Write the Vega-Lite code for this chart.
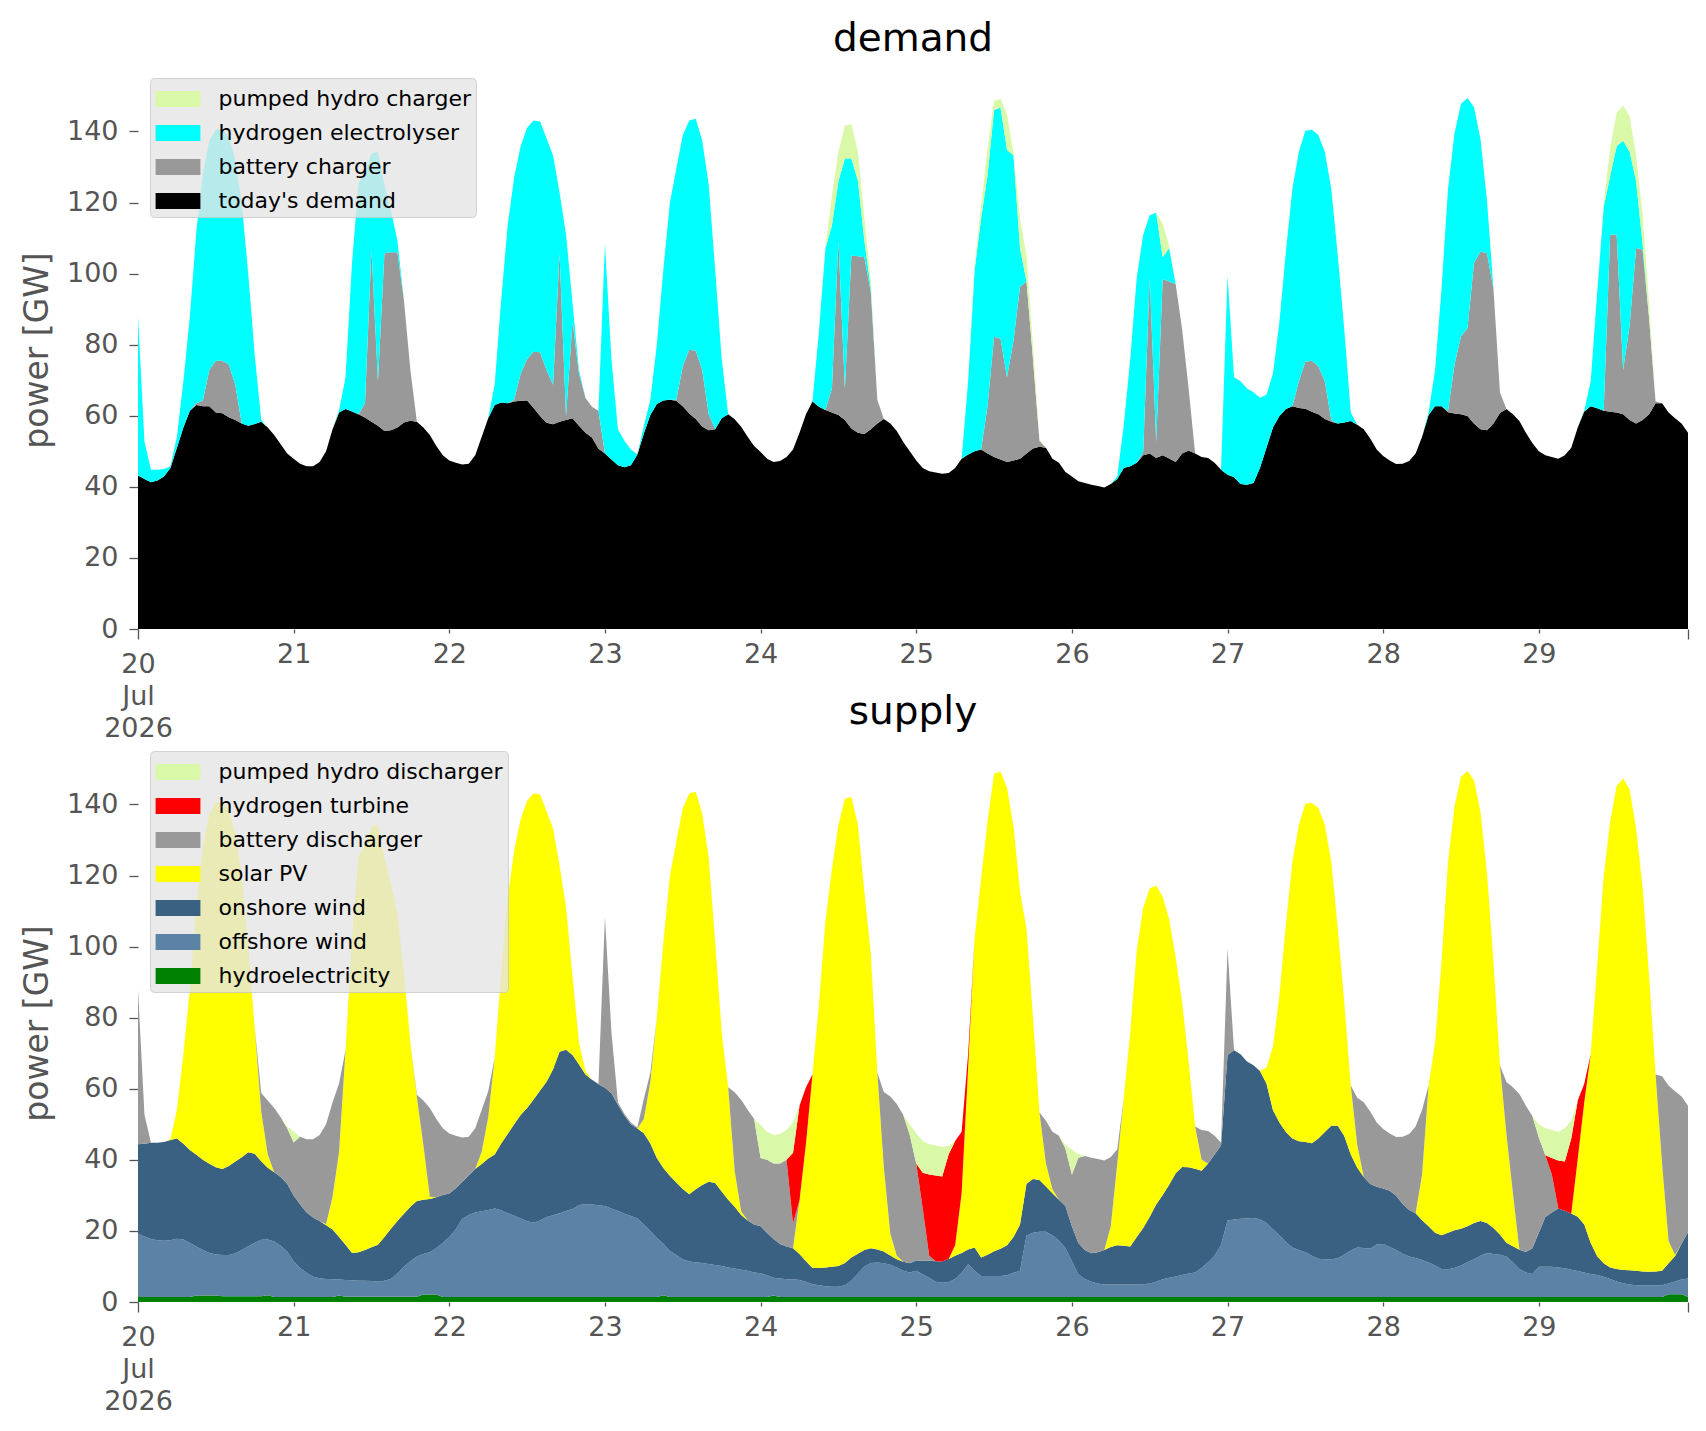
{
"$schema": "https://vega.github.io/schema/vega-lite/v6.json",
"background": "white",
"padding": {"left": 21, "top": 20, "right": 12, "bottom": 10},
"config": {
 "font": "DejaVu Sans",
 "view": {"stroke": null},
 "title": {"font": "DejaVu Sans", "fontSize": 39, "fontWeight": "normal", "color": "#000000", "anchor": "middle", "baseline": "alphabetic", "offset": 12},
 "axis": {"domain": false, "grid": false, "labelFont": "DejaVu Sans", "labelFontSize": 27, "labelColor": "#555555", "tickColor": "#555555", "tickWidth": 1.3, "titleFont": "DejaVu Sans", "titleFontSize": 33, "titleFontWeight": "normal", "titleColor": "#555555"},
 "legend": {"labelFont": "DejaVu Sans", "labelFontSize": 22, "labelColor": "#000000", "labelLimit": 600}
},
"datasets": {"hourly": [
{"t":"2026-07-20T00:00","dd":43.2,"bc":0,"he":44.8,"pc":0,"hy":1.4,"of":17.8,"on":25.2,"pv":0,"bd":43.6,"ht":0,"pd":0},
{"t":"2026-07-20T01:00","dd":42.2,"bc":0,"he":10.4,"pc":0,"hy":1.4,"of":17,"on":26.1,"pv":0,"bd":8.1,"ht":0,"pd":0},
{"t":"2026-07-20T02:00","dd":41.3,"bc":0,"he":3.5,"pc":0,"hy":1.4,"of":16.3,"on":27.1,"pv":0,"bd":0,"ht":0,"pd":0},
{"t":"2026-07-20T03:00","dd":41.8,"bc":0,"he":3,"pc":0,"hy":1.4,"of":16,"on":27.4,"pv":0,"bd":0,"ht":0,"pd":0},
{"t":"2026-07-20T04:00","dd":42.9,"bc":0,"he":2.1,"pc":0,"hy":1.4,"of":15.8,"on":27.8,"pv":0,"bd":0,"ht":0,"pd":0},
{"t":"2026-07-20T05:00","dd":45.3,"bc":0,"he":0.5,"pc":0,"hy":1.4,"of":16,"on":28.2,"pv":0.2,"bd":0,"ht":0,"pd":0},
{"t":"2026-07-20T06:00","dd":51,"bc":0,"he":3.1,"pc":0,"hy":1.4,"of":16.4,"on":28.2,"pv":8.1,"bd":0,"ht":0,"pd":0},
{"t":"2026-07-20T07:00","dd":56.7,"bc":0,"he":13,"pc":0,"hy":1.4,"of":16.2,"on":26.9,"pv":25.2,"bd":0,"ht":0,"pd":0},
{"t":"2026-07-20T08:00","dd":61.4,"bc":0,"he":26.6,"pc":0,"hy":1.4,"of":15.2,"on":26.2,"pv":45.2,"bd":0,"ht":0,"pd":0},
{"t":"2026-07-20T09:00","dd":63,"bc":0.5,"he":48.5,"pc":0,"hy":1.8,"of":13.8,"on":25.8,"pv":70.6,"bd":0,"ht":0,"pd":0},
{"t":"2026-07-20T10:00","dd":62.7,"bc":1.6,"he":63.7,"pc":0,"hy":1.8,"of":12.8,"on":25.4,"pv":88,"bd":0,"ht":0,"pd":0},
{"t":"2026-07-20T11:00","dd":62.7,"bc":10.2,"he":64.5,"pc":0,"hy":1.8,"of":12,"on":25.1,"pv":98.5,"bd":0,"ht":0,"pd":0},
{"t":"2026-07-20T12:00","dd":60.9,"bc":14.6,"he":65,"pc":0,"hy":1.8,"of":11.6,"on":24.5,"pv":102.6,"bd":0,"ht":0,"pd":0},
{"t":"2026-07-20T13:00","dd":60.7,"bc":14.8,"he":65.2,"pc":0,"hy":1.6,"of":11.6,"on":24.2,"pv":103.3,"bd":0,"ht":0,"pd":0},
{"t":"2026-07-20T14:00","dd":59.6,"bc":14.8,"he":64,"pc":0,"hy":1.6,"of":11.6,"on":25.1,"pv":100.1,"bd":0,"ht":0,"pd":0},
{"t":"2026-07-20T15:00","dd":58.8,"bc":9.9,"he":63.3,"pc":0,"hy":1.6,"of":12.1,"on":25.8,"pv":92.5,"bd":0,"ht":0,"pd":0},
{"t":"2026-07-20T16:00","dd":57.8,"bc":0,"he":61.9,"pc":0,"hy":1.6,"of":13,"on":26.1,"pv":79,"bd":0,"ht":0,"pd":0},
{"t":"2026-07-20T17:00","dd":57.2,"bc":0,"he":42.7,"pc":0,"hy":1.6,"of":14.1,"on":26.4,"pv":57.8,"bd":0,"ht":0,"pd":0},
{"t":"2026-07-20T18:00","dd":57.7,"bc":0,"he":19.3,"pc":0,"hy":1.6,"of":15.1,"on":25,"pv":35.3,"bd":0,"ht":0,"pd":0},
{"t":"2026-07-20T19:00","dd":58.3,"bc":0,"he":0.5,"pc":0,"hy":1.6,"of":15.9,"on":22.1,"pv":13.9,"bd":5.3,"ht":0,"pd":0},
{"t":"2026-07-20T20:00","dd":56.7,"bc":0,"he":0,"pc":0,"hy":1.9,"of":15.7,"on":20.2,"pv":3.8,"bd":15.1,"ht":0,"pd":0},
{"t":"2026-07-20T21:00","dd":54.6,"bc":0,"he":0,"pc":0,"hy":1.4,"of":15.6,"on":19.5,"pv":0,"bd":18.1,"ht":0,"pd":0},
{"t":"2026-07-20T22:00","dd":52,"bc":0,"he":0,"pc":0,"hy":1.4,"of":14.4,"on":19.4,"pv":0,"bd":16.8,"ht":0,"pd":0},
{"t":"2026-07-20T23:00","dd":49.4,"bc":0,"he":0,"pc":0,"hy":1.4,"of":12.8,"on":19.1,"pv":0,"bd":15.6,"ht":0,"pd":0.5},
{"t":"2026-07-21T00:00","dd":47.9,"bc":0,"he":0,"pc":0,"hy":1.4,"of":10.1,"on":18.5,"pv":0,"bd":14.9,"ht":0,"pd":3},
{"t":"2026-07-21T01:00","dd":46.5,"bc":0,"he":0,"pc":0,"hy":1.4,"of":8.2,"on":17.8,"pv":0,"bd":19.1,"ht":0,"pd":0},
{"t":"2026-07-21T02:00","dd":45.8,"bc":0,"he":0,"pc":0,"hy":1.4,"of":6.8,"on":17,"pv":0,"bd":20.6,"ht":0,"pd":0},
{"t":"2026-07-21T03:00","dd":45.8,"bc":0,"he":0,"pc":0,"hy":1.4,"of":5.7,"on":16.7,"pv":0,"bd":22,"ht":0,"pd":0},
{"t":"2026-07-21T04:00","dd":47,"bc":0,"he":0,"pc":0,"hy":1.4,"of":5.3,"on":16.1,"pv":0,"bd":24.2,"ht":0,"pd":0},
{"t":"2026-07-21T05:00","dd":50,"bc":0,"he":0,"pc":0,"hy":1.4,"of":5.1,"on":15.1,"pv":0.3,"bd":28.1,"ht":0,"pd":0},
{"t":"2026-07-21T06:00","dd":56.2,"bc":0,"he":0,"pc":0,"hy":1.4,"of":5,"on":14,"pv":9.2,"bd":26.6,"ht":0,"pd":0},
{"t":"2026-07-21T07:00","dd":60.9,"bc":0,"he":0.6,"pc":0,"hy":1.8,"of":4.5,"on":12,"pv":23.8,"bd":19.4,"ht":0,"pd":0},
{"t":"2026-07-21T08:00","dd":61.9,"bc":0,"he":8.9,"pc":0,"hy":1.5,"of":4.7,"on":9.9,"pv":54.7,"bd":0,"ht":0,"pd":0},
{"t":"2026-07-21T09:00","dd":61.2,"bc":0,"he":41.8,"pc":0,"hy":1.5,"of":4.6,"on":7.7,"pv":89.2,"bd":0,"ht":0,"pd":0},
{"t":"2026-07-21T10:00","dd":60.4,"bc":0,"he":65,"pc":0,"hy":1.5,"of":4.5,"on":8,"pv":111.4,"bd":0,"ht":0,"pd":0},
{"t":"2026-07-21T11:00","dd":59.5,"bc":4,"he":65,"pc":0,"hy":1.5,"of":4.5,"on":8.6,"pv":113.9,"bd":0,"ht":0,"pd":0},
{"t":"2026-07-21T12:00","dd":58.3,"bc":48.4,"he":27.1,"pc":0,"hy":1.5,"of":4.4,"on":9.5,"pv":118.4,"bd":0,"ht":0,"pd":0},
{"t":"2026-07-21T13:00","dd":57.2,"bc":12.5,"he":64.6,"pc":0,"hy":1.5,"of":4.2,"on":10.4,"pv":118.2,"bd":0,"ht":0,"pd":0},
{"t":"2026-07-21T14:00","dd":55.7,"bc":50,"he":19.3,"pc":0,"hy":1.5,"of":4.5,"on":12.3,"pv":106.7,"bd":0,"ht":0,"pd":0},
{"t":"2026-07-21T15:00","dd":55.9,"bc":50.1,"he":11.6,"pc":0,"hy":1.5,"of":5,"on":14.1,"pv":97,"bd":0,"ht":0,"pd":0},
{"t":"2026-07-21T16:00","dd":56.7,"bc":49.3,"he":3.3,"pc":0,"hy":1.5,"of":6.5,"on":14.8,"pv":86.5,"bd":0,"ht":0,"pd":0},
{"t":"2026-07-21T17:00","dd":58.1,"bc":34.5,"he":0,"pc":0,"hy":1.5,"of":8.4,"on":14.9,"pv":67.8,"bd":0,"ht":0,"pd":0},
{"t":"2026-07-21T18:00","dd":58.6,"bc":14.3,"he":0,"pc":0,"hy":1.5,"of":10,"on":15.3,"pv":46.1,"bd":0,"ht":0,"pd":0},
{"t":"2026-07-21T19:00","dd":58.3,"bc":0,"he":0,"pc":0,"hy":1.5,"of":11.3,"on":15.6,"pv":29.3,"bd":0.6,"ht":0,"pd":0},
{"t":"2026-07-21T20:00","dd":56.7,"bc":0,"he":0,"pc":0,"hy":2.1,"of":11.4,"on":15.3,"pv":15.4,"bd":12.5,"ht":0,"pd":0},
{"t":"2026-07-21T21:00","dd":54.6,"bc":0,"he":0,"pc":0,"hy":2.1,"of":11.9,"on":15,"pv":0.6,"bd":25,"ht":0,"pd":0},
{"t":"2026-07-21T22:00","dd":51.5,"bc":0,"he":0,"pc":0,"hy":2.1,"of":13.1,"on":14.3,"pv":0,"bd":22,"ht":0,"pd":0},
{"t":"2026-07-21T23:00","dd":48.9,"bc":0,"he":0,"pc":0,"hy":1.4,"of":15.2,"on":13.5,"pv":0,"bd":18.8,"ht":0,"pd":0},
{"t":"2026-07-22T00:00","dd":47.4,"bc":0,"he":0,"pc":0,"hy":1.4,"of":16.9,"on":12.2,"pv":0,"bd":16.9,"ht":0,"pd":0},
{"t":"2026-07-22T01:00","dd":46.8,"bc":0,"he":0,"pc":0,"hy":1.4,"of":19.1,"on":11.5,"pv":0,"bd":14.8,"ht":0,"pd":0},
{"t":"2026-07-22T02:00","dd":46.3,"bc":0,"he":0,"pc":0,"hy":1.4,"of":22,"on":10.4,"pv":0,"bd":12.5,"ht":0,"pd":0},
{"t":"2026-07-22T03:00","dd":46.5,"bc":0,"he":0,"pc":0,"hy":1.4,"of":23.1,"on":11.1,"pv":0,"bd":10.9,"ht":0,"pd":0},
{"t":"2026-07-22T04:00","dd":48.9,"bc":0,"he":0,"pc":0,"hy":1.4,"of":23.8,"on":12.2,"pv":0,"bd":11.5,"ht":0,"pd":0},
{"t":"2026-07-22T05:00","dd":54.1,"bc":0,"he":0,"pc":0,"hy":1.4,"of":24.1,"on":13.3,"pv":3.5,"bd":11.8,"ht":0,"pd":0},
{"t":"2026-07-22T06:00","dd":59.3,"bc":0,"he":0,"pc":0,"hy":1.4,"of":24.5,"on":14.5,"pv":11.6,"bd":7.3,"ht":0,"pd":0},
{"t":"2026-07-22T07:00","dd":63,"bc":0,"he":5.7,"pc":0,"hy":1.4,"of":24.9,"on":15.2,"pv":27.2,"bd":0,"ht":0,"pd":0},
{"t":"2026-07-22T08:00","dd":63.7,"bc":0,"he":28.9,"pc":0,"hy":1.4,"of":24.4,"on":18.8,"pv":48,"bd":0,"ht":0,"pd":0},
{"t":"2026-07-22T09:00","dd":63.5,"bc":0,"he":50,"pc":0,"hy":1.4,"of":23.6,"on":22.3,"pv":66.2,"bd":0,"ht":0,"pd":0},
{"t":"2026-07-22T10:00","dd":64,"bc":0.5,"he":62.5,"pc":0,"hy":1.4,"of":22.9,"on":25.7,"pv":77,"bd":0,"ht":0,"pd":0},
{"t":"2026-07-22T11:00","dd":64.2,"bc":7.6,"he":64,"pc":0,"hy":1.4,"of":22.1,"on":29.1,"pv":83.2,"bd":0,"ht":0,"pd":0},
{"t":"2026-07-22T12:00","dd":64.3,"bc":11.7,"he":65,"pc":0,"hy":1.4,"of":21.3,"on":31.9,"pv":86.4,"bd":0,"ht":0,"pd":0},
{"t":"2026-07-22T13:00","dd":62.2,"bc":15.8,"he":65.1,"pc":0,"hy":1.4,"of":20.9,"on":34.7,"pv":86.1,"bd":0,"ht":0,"pd":0},
{"t":"2026-07-22T14:00","dd":59.9,"bc":18,"he":64.9,"pc":0,"hy":1.4,"of":21.5,"on":36.6,"pv":83.3,"bd":0,"ht":0,"pd":0},
{"t":"2026-07-22T15:00","dd":58,"bc":14.9,"he":65.1,"pc":0,"hy":1.4,"of":22.5,"on":38.1,"pv":76,"bd":0,"ht":0,"pd":0},
{"t":"2026-07-22T16:00","dd":57.6,"bc":11.1,"he":64.5,"pc":0,"hy":1.4,"of":23,"on":41.1,"pv":67.7,"bd":0,"ht":0,"pd":0},
{"t":"2026-07-22T17:00","dd":58.3,"bc":47.4,"he":17.1,"pc":0,"hy":1.4,"of":23.6,"on":45.4,"pv":52.4,"bd":0,"ht":0,"pd":0},
{"t":"2026-07-22T18:00","dd":58.8,"bc":1.1,"he":51.1,"pc":0,"hy":1.4,"of":24.2,"on":45.4,"pv":40,"bd":0,"ht":0,"pd":0},
{"t":"2026-07-22T19:00","dd":59.3,"bc":27.1,"he":5.2,"pc":0,"hy":1.4,"of":24.8,"on":43.3,"pv":22.1,"bd":0,"ht":0,"pd":0},
{"t":"2026-07-22T20:00","dd":57.2,"bc":14.6,"he":1.1,"pc":0,"hy":1.4,"of":25.9,"on":39.5,"pv":6.1,"bd":0,"ht":0,"pd":0},
{"t":"2026-07-22T21:00","dd":55.2,"bc":9.8,"he":0,"pc":0,"hy":1.4,"of":26.1,"on":36.5,"pv":1,"bd":0,"ht":0,"pd":0},
{"t":"2026-07-22T22:00","dd":53.9,"bc":8.6,"he":0,"pc":0,"hy":1.4,"of":26,"on":35.1,"pv":0,"bd":0,"ht":0,"pd":0},
{"t":"2026-07-22T23:00","dd":50.7,"bc":10.7,"he":0,"pc":0,"hy":1.4,"of":25.8,"on":34.1,"pv":0,"bd":0.1,"ht":0,"pd":0},
{"t":"2026-07-23T00:00","dd":49.4,"bc":0,"he":58.9,"pc":0,"hy":1.4,"of":25.6,"on":33.3,"pv":0,"bd":48,"ht":0,"pd":0},
{"t":"2026-07-23T01:00","dd":47.7,"bc":0,"he":28.3,"pc":0,"hy":1.4,"of":24.9,"on":32.4,"pv":0,"bd":17.3,"ht":0,"pd":0},
{"t":"2026-07-23T02:00","dd":46.1,"bc":0,"he":10.1,"pc":0,"hy":1.4,"of":24.2,"on":29.9,"pv":0,"bd":0.7,"ht":0,"pd":0},
{"t":"2026-07-23T03:00","dd":45.5,"bc":0,"he":7.5,"pc":0,"hy":1.4,"of":23.4,"on":27.7,"pv":0,"bd":0.5,"ht":0,"pd":0},
{"t":"2026-07-23T04:00","dd":46.1,"bc":0,"he":4.4,"pc":0,"hy":1.4,"of":22.8,"on":25.8,"pv":0,"bd":0.5,"ht":0,"pd":0},
{"t":"2026-07-23T05:00","dd":49.1,"bc":0,"he":0,"pc":0,"hy":1.4,"of":22.1,"on":25.3,"pv":0,"bd":0.3,"ht":0,"pd":0},
{"t":"2026-07-23T06:00","dd":55,"bc":0,"he":2.2,"pc":0,"hy":1.4,"of":20.4,"on":25.7,"pv":4,"bd":5.7,"ht":0,"pd":0},
{"t":"2026-07-23T07:00","dd":60.2,"bc":0,"he":4.3,"pc":0,"hy":1.4,"of":18.6,"on":24.6,"pv":17.3,"bd":2.6,"ht":0,"pd":0},
{"t":"2026-07-23T08:00","dd":63.3,"bc":0,"he":16.7,"pc":0,"hy":1.4,"of":16.6,"on":22.5,"pv":39.5,"bd":0,"ht":0,"pd":0},
{"t":"2026-07-23T09:00","dd":64.3,"bc":0,"he":36.7,"pc":0,"hy":1.9,"of":14.5,"on":21.3,"pv":63.3,"bd":0,"ht":0,"pd":0},
{"t":"2026-07-23T10:00","dd":64.5,"bc":0,"he":55.2,"pc":0,"hy":1.4,"of":13,"on":21.1,"pv":84.2,"bd":0,"ht":0,"pd":0},
{"t":"2026-07-23T11:00","dd":64.2,"bc":0.3,"he":65,"pc":0,"hy":1.4,"of":11.8,"on":20.4,"pv":95.9,"bd":0,"ht":0,"pd":0},
{"t":"2026-07-23T12:00","dd":62.7,"bc":11.2,"he":65,"pc":0,"hy":1.4,"of":10.6,"on":19.8,"pv":107.1,"bd":0,"ht":0,"pd":0},
{"t":"2026-07-23T13:00","dd":60.6,"bc":18,"he":64.5,"pc":0,"hy":1.4,"of":10,"on":18.9,"pv":112.8,"bd":0,"ht":0,"pd":0},
{"t":"2026-07-23T14:00","dd":59.1,"bc":19.2,"he":65.3,"pc":0,"hy":1.4,"of":9.8,"on":20.5,"pv":111.9,"bd":0,"ht":0,"pd":0},
{"t":"2026-07-23T15:00","dd":57,"bc":15.9,"he":64.5,"pc":0,"hy":1.4,"of":9.6,"on":21.9,"pv":104.5,"bd":0,"ht":0,"pd":0},
{"t":"2026-07-23T16:00","dd":55.9,"bc":4.5,"he":64.6,"pc":0,"hy":1.4,"of":9.3,"on":23.1,"pv":91.2,"bd":0,"ht":0,"pd":0},
{"t":"2026-07-23T17:00","dd":56.2,"bc":0,"he":44.8,"pc":0,"hy":1.4,"of":9,"on":23.1,"pv":67.5,"bd":0,"ht":0,"pd":0},
{"t":"2026-07-23T18:00","dd":59.3,"bc":0,"he":16.7,"pc":0,"hy":1.4,"of":8.7,"on":21,"pv":44.9,"bd":0,"ht":0,"pd":0},
{"t":"2026-07-23T19:00","dd":60.4,"bc":0,"he":0,"pc":0,"hy":1.4,"of":8.3,"on":19.1,"pv":31.6,"bd":0,"ht":0,"pd":0},
{"t":"2026-07-23T20:00","dd":59,"bc":0,"he":0,"pc":0,"hy":1.4,"of":8,"on":17.4,"pv":10.1,"bd":22.1,"ht":0,"pd":0},
{"t":"2026-07-23T21:00","dd":56.9,"bc":0,"he":0,"pc":0,"hy":1.4,"of":7.7,"on":15.4,"pv":1,"bd":31.4,"ht":0,"pd":0},
{"t":"2026-07-23T22:00","dd":54.1,"bc":0,"he":0,"pc":0,"hy":1.4,"of":7.4,"on":14.1,"pv":0,"bd":31.2,"ht":0,"pd":0},
{"t":"2026-07-23T23:00","dd":51.5,"bc":0,"he":0,"pc":0,"hy":1.4,"of":6.9,"on":13.5,"pv":0,"bd":29.7,"ht":0,"pd":0},
{"t":"2026-07-24T00:00","dd":49.8,"bc":0,"he":0,"pc":0,"hy":1.4,"of":6.7,"on":13.2,"pv":0,"bd":19.2,"ht":0,"pd":9.3},
{"t":"2026-07-24T01:00","dd":47.9,"bc":0,"he":0,"pc":0,"hy":1.4,"of":6.1,"on":11.9,"pv":0,"bd":20.6,"ht":0,"pd":7.9},
{"t":"2026-07-24T02:00","dd":47,"bc":0,"he":0,"pc":0,"hy":1.8,"of":5,"on":10.9,"pv":0,"bd":21.3,"ht":0,"pd":8},
{"t":"2026-07-24T03:00","dd":47.3,"bc":0,"he":0,"pc":0,"hy":1.4,"of":5.2,"on":9.7,"pv":0,"bd":22.7,"ht":0,"pd":8.3},
{"t":"2026-07-24T04:00","dd":48.4,"bc":0,"he":0,"pc":0,"hy":1.4,"of":5,"on":9.2,"pv":0,"bd":24.4,"ht":0,"pd":8.4},
{"t":"2026-07-24T05:00","dd":50.5,"bc":0,"he":0,"pc":0,"hy":1.4,"of":5,"on":8.7,"pv":0,"bd":7,"ht":19.9,"pd":8.5},
{"t":"2026-07-24T06:00","dd":55.2,"bc":0,"he":0,"pc":0,"hy":1.4,"of":4.8,"on":7.3,"pv":15.1,"bd":0,"ht":26.6,"pd":0},
{"t":"2026-07-24T07:00","dd":60.4,"bc":0,"he":0,"pc":0,"hy":1.4,"of":4.3,"on":5.8,"pv":33.2,"bd":0,"ht":15.7,"pd":0},
{"t":"2026-07-24T08:00","dd":64,"bc":0,"he":0,"pc":0,"hy":1.4,"of":3.6,"on":4.6,"pv":54.4,"bd":0,"ht":0,"pd":0},
{"t":"2026-07-24T09:00","dd":62.5,"bc":0,"he":21.3,"pc":0,"hy":1.4,"of":3.3,"on":4.9,"pv":74.2,"bd":0,"ht":0,"pd":0},
{"t":"2026-07-24T10:00","dd":61.6,"bc":0,"he":45.6,"pc":0,"hy":1.4,"of":3,"on":5.3,"pv":97.5,"bd":0,"ht":0,"pd":0},
{"t":"2026-07-24T11:00","dd":60.9,"bc":6.8,"he":45.8,"pc":8.3,"hy":1.4,"of":2.9,"on":5.6,"pv":111.9,"bd":0,"ht":0,"pd":0},
{"t":"2026-07-24T12:00","dd":60.2,"bc":49.1,"he":16.7,"pc":8.3,"hy":1.4,"of":2.9,"on":5.8,"pv":124.2,"bd":0,"ht":0,"pd":0},
{"t":"2026-07-24T13:00","dd":58.8,"bc":8.9,"he":64.7,"pc":9.2,"hy":1.4,"of":3.3,"on":6.3,"pv":130.6,"bd":0,"ht":0,"pd":0},
{"t":"2026-07-24T14:00","dd":56.4,"bc":48.7,"he":27.3,"pc":9.7,"hy":1.4,"of":4.6,"on":6.5,"pv":129.6,"bd":0,"ht":0,"pd":0},
{"t":"2026-07-24T15:00","dd":55.2,"bc":49.7,"he":21.3,"pc":8.1,"hy":1.4,"of":6.6,"on":5.6,"pv":120.7,"bd":0,"ht":0,"pd":0},
{"t":"2026-07-24T16:00","dd":54.9,"bc":49.7,"he":4.7,"pc":6.2,"hy":1.4,"of":8.6,"on":4.6,"pv":100.9,"bd":0,"ht":0,"pd":0},
{"t":"2026-07-24T17:00","dd":56.2,"bc":38.5,"he":1.1,"pc":2,"hy":1.4,"of":9.6,"on":4.1,"pv":82.7,"bd":0,"ht":0,"pd":0},
{"t":"2026-07-24T18:00","dd":57.8,"bc":6.7,"he":0,"pc":0,"hy":1.4,"of":9.7,"on":3.7,"pv":49.7,"bd":0,"ht":0,"pd":0},
{"t":"2026-07-24T19:00","dd":59.1,"bc":0,"he":0,"pc":0,"hy":1.4,"of":9.5,"on":3.3,"pv":23.8,"bd":21.1,"ht":0,"pd":0},
{"t":"2026-07-24T20:00","dd":57.8,"bc":0,"he":0,"pc":0,"hy":1.4,"of":9.1,"on":2.6,"pv":6.1,"bd":38.6,"ht":0,"pd":0},
{"t":"2026-07-24T21:00","dd":55.7,"bc":0,"he":0,"pc":0,"hy":1.4,"of":8.3,"on":2.3,"pv":1,"bd":42.7,"ht":0,"pd":0},
{"t":"2026-07-24T22:00","dd":52.6,"bc":0,"he":0,"pc":0,"hy":1.4,"of":7.4,"on":2.5,"pv":0,"bd":41.3,"ht":0,"pd":0},
{"t":"2026-07-24T23:00","dd":50,"bc":0,"he":0,"pc":0,"hy":1.4,"of":6.9,"on":2.6,"pv":0,"bd":36.1,"ht":0,"pd":3},
{"t":"2026-07-25T00:00","dd":47.4,"bc":0,"he":0,"pc":0,"hy":1.4,"of":7.4,"on":2.9,"pv":0,"bd":27.3,"ht":0,"pd":8.4},
{"t":"2026-07-25T01:00","dd":45.3,"bc":0,"he":0,"pc":0,"hy":1.4,"of":6.4,"on":3.8,"pv":0,"bd":14.7,"ht":10.1,"pd":8.9},
{"t":"2026-07-25T02:00","dd":44.4,"bc":0,"he":0,"pc":0,"hy":1.4,"of":5.4,"on":4.8,"pv":0,"bd":1.4,"ht":22.9,"pd":8.5},
{"t":"2026-07-25T03:00","dd":44,"bc":0,"he":0,"pc":0,"hy":1.4,"of":4.3,"on":5.8,"pv":0,"bd":0,"ht":24.1,"pd":8.4},
{"t":"2026-07-25T04:00","dd":43.7,"bc":0,"he":0,"pc":0,"hy":1.4,"of":4,"on":6,"pv":0,"bd":0,"ht":23.9,"pd":8.4},
{"t":"2026-07-25T05:00","dd":43.9,"bc":0,"he":0,"pc":0,"hy":1.4,"of":4.2,"on":6.5,"pv":0,"bd":0,"ht":29.5,"pd":2.3},
{"t":"2026-07-25T06:00","dd":45.3,"bc":0,"he":0,"pc":0,"hy":1.4,"of":5.1,"on":6.5,"pv":3,"bd":0,"ht":29.3,"pd":0},
{"t":"2026-07-25T07:00","dd":47.9,"bc":0,"he":0,"pc":0,"hy":1.4,"of":6.8,"on":5.6,"pv":16.9,"bd":0,"ht":17.2,"pd":0},
{"t":"2026-07-25T08:00","dd":49.1,"bc":0,"he":20.6,"pc":0,"hy":1.4,"of":9.2,"on":4.2,"pv":51.2,"bd":0,"ht":3.7,"pd":0},
{"t":"2026-07-25T09:00","dd":50,"bc":0,"he":51,"pc":1.5,"hy":1.4,"of":7.4,"on":6.5,"pv":87.2,"bd":0,"ht":0,"pd":0},
{"t":"2026-07-25T10:00","dd":50.5,"bc":0,"he":65,"pc":3.5,"hy":1.4,"of":5.9,"on":5.2,"pv":106.5,"bd":0,"ht":0,"pd":0},
{"t":"2026-07-25T11:00","dd":49.4,"bc":13.4,"he":65,"pc":7.5,"hy":1.4,"of":5.9,"on":6,"pv":122,"bd":0,"ht":0,"pd":0},
{"t":"2026-07-25T12:00","dd":48.4,"bc":33.8,"he":63.8,"pc":2.6,"hy":1.4,"of":5.9,"on":7,"pv":134.3,"bd":0,"ht":0,"pd":0},
{"t":"2026-07-25T13:00","dd":47.7,"bc":34,"he":65,"pc":2.5,"hy":1.4,"of":5.9,"on":7.7,"pv":134.2,"bd":0,"ht":0,"pd":0},
{"t":"2026-07-25T14:00","dd":47,"bc":23.8,"he":64,"pc":9.9,"hy":1.4,"of":6.1,"on":8.5,"pv":128.7,"bd":0,"ht":0,"pd":0},
{"t":"2026-07-25T15:00","dd":47.4,"bc":33.8,"he":52,"pc":0.6,"hy":1.4,"of":6.8,"on":10.1,"pv":115.5,"bd":0,"ht":0,"pd":0},
{"t":"2026-07-25T16:00","dd":47.9,"bc":48.4,"he":10.9,"pc":8.3,"hy":1.4,"of":7.4,"on":13,"pv":93.7,"bd":0,"ht":0,"pd":0},
{"t":"2026-07-25T17:00","dd":49.4,"bc":48.4,"he":0,"pc":7.2,"hy":1.4,"of":17.3,"on":14.6,"pv":71.7,"bd":0,"ht":0,"pd":0},
{"t":"2026-07-25T18:00","dd":50.8,"bc":25.2,"he":0,"pc":4,"hy":1.4,"of":18.1,"on":15.1,"pv":45.4,"bd":0,"ht":0,"pd":0},
{"t":"2026-07-25T19:00","dd":51.3,"bc":1.7,"he":0,"pc":0.3,"hy":1.4,"of":18.4,"on":14.5,"pv":19,"bd":0,"ht":0,"pd":0},
{"t":"2026-07-25T20:00","dd":51,"bc":0,"he":0,"pc":0,"hy":1.4,"of":18.4,"on":12.7,"pv":6.5,"bd":12,"ht":0,"pd":0},
{"t":"2026-07-25T21:00","dd":47.9,"bc":0,"he":0,"pc":0,"hy":1.4,"of":17.4,"on":11.8,"pv":1.1,"bd":16.2,"ht":0,"pd":0},
{"t":"2026-07-25T22:00","dd":46.8,"bc":0,"he":0,"pc":0,"hy":1.4,"of":15.9,"on":11.5,"pv":0,"bd":18,"ht":0,"pd":0},
{"t":"2026-07-25T23:00","dd":44.2,"bc":0,"he":0,"pc":0,"hy":1.4,"of":13.8,"on":11.8,"pv":0,"bd":16.2,"ht":0,"pd":1},
{"t":"2026-07-26T00:00","dd":42.9,"bc":0,"he":0,"pc":0,"hy":1.4,"of":10.1,"on":9.8,"pv":0,"bd":14.6,"ht":0,"pd":7},
{"t":"2026-07-26T01:00","dd":41.6,"bc":0,"he":0,"pc":0,"hy":1.4,"of":6.4,"on":8.8,"pv":0,"bd":24,"ht":0,"pd":1},
{"t":"2026-07-26T02:00","dd":41.1,"bc":0,"he":0,"pc":0,"hy":1.4,"of":5.1,"on":8.1,"pv":0,"bd":26.5,"ht":0,"pd":0},
{"t":"2026-07-26T03:00","dd":40.6,"bc":0,"he":0,"pc":0,"hy":1.4,"of":4.3,"on":8,"pv":0,"bd":26.9,"ht":0,"pd":0},
{"t":"2026-07-26T04:00","dd":40.2,"bc":0,"he":0,"pc":0,"hy":1.4,"of":3.8,"on":8.8,"pv":0,"bd":26.2,"ht":0,"pd":0},
{"t":"2026-07-26T05:00","dd":39.8,"bc":0,"he":0,"pc":0,"hy":1.4,"of":3.5,"on":9.7,"pv":0,"bd":25.2,"ht":0,"pd":0},
{"t":"2026-07-26T06:00","dd":40.8,"bc":0,"he":0,"pc":0,"hy":1.4,"of":3.5,"on":10.6,"pv":5.8,"bd":19.5,"ht":0,"pd":0},
{"t":"2026-07-26T07:00","dd":42.2,"bc":0,"he":0.8,"pc":0,"hy":1.4,"of":3.5,"on":11.1,"pv":23,"bd":4,"ht":0,"pd":0},
{"t":"2026-07-26T08:00","dd":45.3,"bc":0,"he":12,"pc":0,"hy":1.4,"of":3.5,"on":10.9,"pv":41.5,"bd":0,"ht":0,"pd":0},
{"t":"2026-07-26T09:00","dd":45.8,"bc":0,"he":30.2,"pc":0,"hy":1.4,"of":3.5,"on":10.7,"pv":60.4,"bd":0,"ht":0,"pd":0},
{"t":"2026-07-26T10:00","dd":46.8,"bc":0,"he":52.1,"pc":0,"hy":1.4,"of":3.5,"on":13.4,"pv":80.6,"bd":0,"ht":0,"pd":0},
{"t":"2026-07-26T11:00","dd":48.9,"bc":1,"he":61,"pc":0,"hy":1.4,"of":3.6,"on":15.8,"pv":90.1,"bd":0,"ht":0,"pd":0},
{"t":"2026-07-26T12:00","dd":49.4,"bc":49.5,"he":17.5,"pc":0,"hy":1.4,"of":3.8,"on":18.8,"pv":92.4,"bd":0,"ht":0,"pd":0},
{"t":"2026-07-26T13:00","dd":48.1,"bc":4.5,"he":64.5,"pc":0,"hy":1.4,"of":4.3,"on":21.7,"pv":89.7,"bd":0,"ht":0,"pd":0},
{"t":"2026-07-26T14:00","dd":48.9,"bc":49.5,"he":6.2,"pc":9.4,"hy":1.4,"of":5,"on":23.7,"pv":83.9,"bd":0,"ht":0,"pd":0},
{"t":"2026-07-26T15:00","dd":48,"bc":49.8,"he":9.4,"pc":0.5,"hy":1.4,"of":5.4,"on":26.2,"pv":74.7,"bd":0,"ht":0,"pd":0},
{"t":"2026-07-26T16:00","dd":47,"bc":50.1,"he":0,"pc":0,"hy":1.4,"of":5.8,"on":29,"pv":60.9,"bd":0,"ht":0,"pd":0},
{"t":"2026-07-26T17:00","dd":49.4,"bc":34.9,"he":0,"pc":0,"hy":1.4,"of":6.2,"on":30.4,"pv":46.3,"bd":0,"ht":0,"pd":0},
{"t":"2026-07-26T18:00","dd":50.2,"bc":17.5,"he":0,"pc":0,"hy":1.4,"of":6.6,"on":29.9,"pv":29.8,"bd":0,"ht":0,"pd":0},
{"t":"2026-07-26T19:00","dd":49.4,"bc":0,"he":0,"pc":0,"hy":1.4,"of":6.9,"on":29.2,"pv":11.9,"bd":0,"ht":0,"pd":0},
{"t":"2026-07-26T20:00","dd":48.4,"bc":0,"he":0,"pc":0,"hy":1.4,"of":8.2,"on":27.3,"pv":3.1,"bd":8.4,"ht":0,"pd":0},
{"t":"2026-07-26T21:00","dd":48.1,"bc":0,"he":0,"pc":0,"hy":1.4,"of":9.8,"on":27.8,"pv":0,"bd":9.1,"ht":0,"pd":0},
{"t":"2026-07-26T22:00","dd":46.8,"bc":0,"he":0,"pc":0,"hy":1.4,"of":11.6,"on":28.5,"pv":0,"bd":5.3,"ht":0,"pd":0},
{"t":"2026-07-26T23:00","dd":44.8,"bc":0,"he":0,"pc":0,"hy":1.4,"of":14.7,"on":27.9,"pv":0,"bd":0.8,"ht":0,"pd":0},
{"t":"2026-07-27T00:00","dd":43.4,"bc":0,"he":56,"pc":0,"hy":1.4,"of":21.5,"on":46.6,"pv":0,"bd":29.9,"ht":0,"pd":0},
{"t":"2026-07-27T01:00","dd":42.7,"bc":0,"he":28.1,"pc":0,"hy":1.4,"of":21.8,"on":47.6,"pv":0,"bd":0,"ht":0,"pd":0},
{"t":"2026-07-27T02:00","dd":40.8,"bc":0,"he":28.9,"pc":0,"hy":1.4,"of":22,"on":46.3,"pv":0,"bd":0,"ht":0,"pd":0},
{"t":"2026-07-27T03:00","dd":40.6,"bc":0,"he":27.1,"pc":0,"hy":1.4,"of":22.1,"on":44.2,"pv":0,"bd":0,"ht":0,"pd":0},
{"t":"2026-07-27T04:00","dd":41.1,"bc":0,"he":25.5,"pc":0,"hy":1.4,"of":22.2,"on":43,"pv":0,"bd":0,"ht":0,"pd":0},
{"t":"2026-07-27T05:00","dd":45.3,"bc":0,"he":19.8,"pc":0,"hy":1.4,"of":21.9,"on":41.7,"pv":0.1,"bd":0,"ht":0,"pd":0},
{"t":"2026-07-27T06:00","dd":51,"bc":0,"he":14.9,"pc":0,"hy":1.4,"of":20.8,"on":39.3,"pv":4.4,"bd":0,"ht":0,"pd":0},
{"t":"2026-07-27T07:00","dd":56.7,"bc":0,"he":15.1,"pc":0,"hy":1.4,"of":19.1,"on":33.5,"pv":17.8,"bd":0,"ht":0,"pd":0},
{"t":"2026-07-27T08:00","dd":59.9,"bc":0,"he":26.5,"pc":0,"hy":1.4,"of":17.4,"on":31.7,"pv":35.9,"bd":0,"ht":0,"pd":0},
{"t":"2026-07-27T09:00","dd":61.9,"bc":0,"he":44.3,"pc":0,"hy":1.4,"of":15.5,"on":30.9,"pv":58.4,"bd":0,"ht":0,"pd":0},
{"t":"2026-07-27T10:00","dd":62.7,"bc":0,"he":61.2,"pc":0,"hy":1.4,"of":13.9,"on":30.7,"pv":77.9,"bd":0,"ht":0,"pd":0},
{"t":"2026-07-27T11:00","dd":62.2,"bc":7.5,"he":64.6,"pc":0,"hy":1.4,"of":13.2,"on":30.6,"pv":89.1,"bd":0,"ht":0,"pd":0},
{"t":"2026-07-27T12:00","dd":62,"bc":13.2,"he":65,"pc":0,"hy":1.4,"of":12.6,"on":31,"pv":95.2,"bd":0,"ht":0,"pd":0},
{"t":"2026-07-27T13:00","dd":61.1,"bc":14.4,"he":65,"pc":0,"hy":1.4,"of":11.6,"on":31.7,"pv":95.8,"bd":0,"ht":0,"pd":0},
{"t":"2026-07-27T14:00","dd":60.4,"bc":13.5,"he":65.1,"pc":0,"hy":1.4,"of":10.8,"on":33.8,"pv":93,"bd":0,"ht":0,"pd":0},
{"t":"2026-07-27T15:00","dd":59.1,"bc":10.6,"he":64.6,"pc":0,"hy":1.4,"of":10.6,"on":35.8,"pv":86.5,"bd":0,"ht":0,"pd":0},
{"t":"2026-07-27T16:00","dd":58.3,"bc":0.5,"he":65,"pc":0,"hy":1.4,"of":10.6,"on":37.6,"pv":74.2,"bd":0,"ht":0,"pd":0},
{"t":"2026-07-27T17:00","dd":57.8,"bc":0,"he":47.2,"pc":0,"hy":1.4,"of":10.9,"on":37.3,"pv":55.4,"bd":0,"ht":0,"pd":0},
{"t":"2026-07-27T18:00","dd":58.1,"bc":0,"he":26.2,"pc":0,"hy":1.4,"of":12,"on":33.3,"pv":37.6,"bd":0,"ht":0,"pd":0},
{"t":"2026-07-27T19:00","dd":58.5,"bc":0,"he":2.4,"pc":0,"hy":1.4,"of":13.1,"on":27,"pv":19.4,"bd":0,"ht":0,"pd":0},
{"t":"2026-07-27T20:00","dd":57.5,"bc":0,"he":0,"pc":0,"hy":1.4,"of":13.9,"on":22.5,"pv":6.4,"bd":13.3,"ht":0,"pd":0},
{"t":"2026-07-27T21:00","dd":56.2,"bc":0,"he":0,"pc":0,"hy":1.4,"of":13.8,"on":20,"pv":0,"bd":21,"ht":0,"pd":0},
{"t":"2026-07-27T22:00","dd":53.6,"bc":0,"he":0,"pc":0,"hy":1.4,"of":13.6,"on":18.2,"pv":0,"bd":20.4,"ht":0,"pd":0},
{"t":"2026-07-27T23:00","dd":50.5,"bc":0,"he":0,"pc":0,"hy":1.4,"of":14.8,"on":16.2,"pv":0,"bd":18.1,"ht":0,"pd":0},
{"t":"2026-07-28T00:00","dd":48.7,"bc":0,"he":0,"pc":0,"hy":1.4,"of":14.9,"on":15.6,"pv":0,"bd":16.8,"ht":0,"pd":0},
{"t":"2026-07-28T01:00","dd":47.4,"bc":0,"he":0,"pc":0,"hy":1.4,"of":14.1,"on":15.8,"pv":0,"bd":16.1,"ht":0,"pd":0},
{"t":"2026-07-28T02:00","dd":46.4,"bc":0,"he":0,"pc":0,"hy":1.4,"of":13.2,"on":15.3,"pv":0,"bd":16.5,"ht":0,"pd":0},
{"t":"2026-07-28T03:00","dd":46.5,"bc":0,"he":0,"pc":0,"hy":1.4,"of":12.2,"on":14,"pv":0,"bd":18.9,"ht":0,"pd":0},
{"t":"2026-07-28T04:00","dd":47.3,"bc":0,"he":0,"pc":0,"hy":1.4,"of":11.4,"on":13.1,"pv":0,"bd":21.4,"ht":0,"pd":0},
{"t":"2026-07-28T05:00","dd":49.4,"bc":0,"he":0,"pc":0,"hy":1.4,"of":11,"on":12.6,"pv":0,"bd":24.4,"ht":0,"pd":0},
{"t":"2026-07-28T06:00","dd":54.1,"bc":0,"he":0,"pc":0,"hy":1.4,"of":10.4,"on":11.2,"pv":12.9,"bd":18.2,"ht":0,"pd":0},
{"t":"2026-07-28T07:00","dd":60.2,"bc":0,"he":0.7,"pc":0,"hy":1.4,"of":9.7,"on":10.2,"pv":39.6,"bd":0,"ht":0,"pd":0},
{"t":"2026-07-28T08:00","dd":62.7,"bc":0,"he":10.2,"pc":0,"hy":1.4,"of":8.9,"on":9.2,"pv":53.4,"bd":0,"ht":0,"pd":0},
{"t":"2026-07-28T09:00","dd":62.7,"bc":0,"he":33.1,"pc":0,"hy":1.4,"of":7.9,"on":9.5,"pv":77,"bd":0,"ht":0,"pd":0},
{"t":"2026-07-28T10:00","dd":61,"bc":0.4,"he":62.5,"pc":0,"hy":1.4,"of":7.8,"on":10.3,"pv":104.4,"bd":0,"ht":0,"pd":0},
{"t":"2026-07-28T11:00","dd":60.6,"bc":13.8,"he":65.1,"pc":0,"hy":1.4,"of":8.2,"on":10.6,"pv":119.3,"bd":0,"ht":0,"pd":0},
{"t":"2026-07-28T12:00","dd":60.4,"bc":22,"he":65.4,"pc":0,"hy":1.4,"of":8.9,"on":10.3,"pv":127.2,"bd":0,"ht":0,"pd":0},
{"t":"2026-07-28T13:00","dd":59.9,"bc":24.7,"he":64.8,"pc":0,"hy":1.4,"of":9.8,"on":10.1,"pv":128.1,"bd":0,"ht":0,"pd":0},
{"t":"2026-07-28T14:00","dd":57.8,"bc":45.2,"he":43.8,"pc":0,"hy":1.4,"of":10.6,"on":10.2,"pv":124.6,"bd":0,"ht":0,"pd":0},
{"t":"2026-07-28T15:00","dd":56.2,"bc":50,"he":31.7,"pc":0,"hy":1.4,"of":11.6,"on":9.8,"pv":115.1,"bd":0,"ht":0,"pd":0},
{"t":"2026-07-28T16:00","dd":55.9,"bc":49.8,"he":15,"pc":0,"hy":1.4,"of":12.4,"on":8.4,"pv":98.5,"bd":0,"ht":0,"pd":0},
{"t":"2026-07-28T17:00","dd":57.8,"bc":38,"he":0,"pc":0,"hy":1.4,"of":12.1,"on":7.3,"pv":75,"bd":0,"ht":0,"pd":0},
{"t":"2026-07-28T18:00","dd":60.8,"bc":5.8,"he":0,"pc":0,"hy":1.4,"of":11.9,"on":5.7,"pv":47.6,"bd":0,"ht":0,"pd":0},
{"t":"2026-07-28T19:00","dd":61.9,"bc":0,"he":0,"pc":0,"hy":1.4,"of":11.4,"on":3.9,"pv":30.6,"bd":14.6,"ht":0,"pd":0},
{"t":"2026-07-28T20:00","dd":60.4,"bc":0,"he":0,"pc":0,"hy":1.4,"of":9.8,"on":4.5,"pv":15,"bd":29.7,"ht":0,"pd":0},
{"t":"2026-07-28T21:00","dd":58.5,"bc":0,"he":0,"pc":0,"hy":1.4,"of":7.9,"on":5.4,"pv":0,"bd":43.8,"ht":0,"pd":0},
{"t":"2026-07-28T22:00","dd":55.2,"bc":0,"he":0,"pc":0,"hy":1.4,"of":6.9,"on":5.8,"pv":0,"bd":41.1,"ht":0,"pd":0},
{"t":"2026-07-28T23:00","dd":52.3,"bc":0,"he":0,"pc":0,"hy":1.4,"of":6.5,"on":7.2,"pv":0,"bd":37.2,"ht":0,"pd":0},
{"t":"2026-07-29T00:00","dd":50,"bc":0,"he":0,"pc":0,"hy":1.4,"of":8.5,"on":9.6,"pv":0,"bd":26.8,"ht":0,"pd":3.7},
{"t":"2026-07-29T01:00","dd":48.9,"bc":0,"he":0,"pc":0,"hy":1.4,"of":8.5,"on":14,"pv":0,"bd":17.4,"ht":0,"pd":7.6},
{"t":"2026-07-29T02:00","dd":48.4,"bc":0,"he":0,"pc":0,"hy":1.4,"of":8.5,"on":15.3,"pv":0,"bd":10.7,"ht":4.6,"pd":7.9},
{"t":"2026-07-29T03:00","dd":47.9,"bc":0,"he":0,"pc":0,"hy":1.4,"of":8.3,"on":16.6,"pv":0,"bd":0,"ht":13.5,"pd":8.1},
{"t":"2026-07-29T04:00","dd":48.9,"bc":0,"he":0,"pc":0,"hy":1.4,"of":8.1,"on":16.2,"pv":0,"bd":0,"ht":13.8,"pd":9.4},
{"t":"2026-07-29T05:00","dd":51,"bc":0,"he":0,"pc":0,"hy":1.4,"of":7.7,"on":15.8,"pv":0,"bd":0,"ht":21.1,"pd":5},
{"t":"2026-07-29T06:00","dd":56.7,"bc":0,"he":0,"pc":0,"hy":1.4,"of":7.3,"on":15.3,"pv":16.3,"bd":0,"ht":16.4,"pd":0},
{"t":"2026-07-29T07:00","dd":61.2,"bc":0,"he":0.2,"pc":0,"hy":1.4,"of":6.9,"on":13.5,"pv":34.3,"bd":0,"ht":5.3,"pd":0},
{"t":"2026-07-29T08:00","dd":62.7,"bc":0,"he":7,"pc":0,"hy":1.4,"of":6.5,"on":8.7,"pv":53.1,"bd":0,"ht":0,"pd":0},
{"t":"2026-07-29T09:00","dd":62.1,"bc":0,"he":32.6,"pc":0,"hy":1.4,"of":6.2,"on":5.3,"pv":81.8,"bd":0,"ht":0,"pd":0},
{"t":"2026-07-29T10:00","dd":61.4,"bc":0,"he":57.3,"pc":1,"hy":1.4,"of":5.7,"on":3.8,"pv":108.8,"bd":0,"ht":0,"pd":0},
{"t":"2026-07-29T11:00","dd":61.1,"bc":49.8,"he":16.6,"pc":7.8,"hy":1.4,"of":5.1,"on":3.2,"pv":125.6,"bd":0,"ht":0,"pd":0},
{"t":"2026-07-29T12:00","dd":60.9,"bc":50,"he":24.9,"pc":9.4,"hy":1.4,"of":4.4,"on":3.5,"pv":135.9,"bd":0,"ht":0,"pd":0},
{"t":"2026-07-29T13:00","dd":60.4,"bc":12.5,"he":64.5,"pc":9.9,"hy":1.4,"of":3.9,"on":3.7,"pv":138.3,"bd":0,"ht":0,"pd":0},
{"t":"2026-07-29T14:00","dd":58.8,"bc":26.6,"he":48.9,"pc":9.9,"hy":1.4,"of":3.5,"on":4,"pv":135.3,"bd":0,"ht":0,"pd":0},
{"t":"2026-07-29T15:00","dd":57.8,"bc":49.4,"he":18.8,"pc":7.2,"hy":1.4,"of":3.3,"on":4.1,"pv":124.4,"bd":0,"ht":0,"pd":0},
{"t":"2026-07-29T16:00","dd":58.8,"bc":47.9,"he":1.6,"pc":8.3,"hy":1.4,"of":3.3,"on":3.9,"pv":108,"bd":0,"ht":0,"pd":0},
{"t":"2026-07-29T17:00","dd":60.4,"bc":27,"he":0,"pc":4.2,"hy":1.4,"of":3.3,"on":3.8,"pv":83.1,"bd":0,"ht":0,"pd":0},
{"t":"2026-07-29T18:00","dd":63.5,"bc":0.5,"he":0,"pc":0,"hy":1.4,"of":3.3,"on":3.9,"pv":55.4,"bd":0,"ht":0,"pd":0},
{"t":"2026-07-29T19:00","dd":63.5,"bc":0,"he":0,"pc":0,"hy":1.4,"of":3.3,"on":4.1,"pv":30.2,"bd":24.5,"ht":0,"pd":0},
{"t":"2026-07-29T20:00","dd":60.9,"bc":0,"he":0,"pc":0,"hy":2.2,"of":3,"on":5.7,"pv":6.3,"bd":43.7,"ht":0,"pd":0},
{"t":"2026-07-29T21:00","dd":59.3,"bc":0,"he":0,"pc":0,"hy":2.2,"of":3.6,"on":7.1,"pv":0.3,"bd":46.1,"ht":0,"pd":0},
{"t":"2026-07-29T22:00","dd":57.8,"bc":0,"he":0,"pc":0,"hy":2.2,"of":4.1,"on":10.1,"pv":0,"bd":41.4,"ht":0,"pd":0},
{"t":"2026-07-29T23:00","dd":55.2,"bc":0,"he":0,"pc":0,"hy":1.4,"of":5.2,"on":13,"pv":0,"bd":35.6,"ht":0,"pd":0}
]},
"vconcat": [
 {
  "title": "demand",
  "width": 1550,
  "height": 558,
  "data": {"name": "hourly"},
  "transform": [
   {"fold": ["dd", "bc", "he", "pc"], "as": ["k", "v"]},
   {"lookup": "k", "from": {"data": {"values": [
     {"k": "dd", "series": "today's demand", "o": 0},
     {"k": "bc", "series": "battery charger", "o": 1},
     {"k": "he", "series": "hydrogen electrolyser", "o": 2},
     {"k": "pc", "series": "pumped hydro charger", "o": 3}
   ]}, "key": "k", "fields": ["series", "o"]}}
  ],
  "mark": {"type": "area", "interpolate": "linear", "strokeWidth": 0},
  "encoding": {
   "x": {"field": "t", "type": "temporal", "title": null,
    "scale": {"domain": [{"year": 2026, "month": 7, "date": 20, "hours": 0}, {"year": 2026, "month": 7, "date": 29, "hours": 23}]},
    "axis": {
     "values": [{"year": 2026, "month": 7, "date": 20}, {"year": 2026, "month": 7, "date": 21}, {"year": 2026, "month": 7, "date": 22}, {"year": 2026, "month": 7, "date": 23}, {"year": 2026, "month": 7, "date": 24}, {"year": 2026, "month": 7, "date": 25}, {"year": 2026, "month": 7, "date": 26}, {"year": 2026, "month": 7, "date": 27}, {"year": 2026, "month": 7, "date": 28}, {"year": 2026, "month": 7, "date": 29}, {"year": 2026, "month": 7, "date": 29, "hours": 23}],
     "labelExpr": "hours(datum.value) == 23 ? '' : (date(datum.value) == 20 ? ['20', 'Jul', '2026'] : timeFormat(datum.value, '%d'))",
     "tickSize": {"condition": {"test": "date(datum.value) == 20 || hours(datum.value) == 23", "value": 10}, "value": 4},
     "labelPadding": {"condition": {"test": "date(datum.value) == 20 || hours(datum.value) == 23", "value": 12}, "value": 8},
     "labelLineHeight": 32, "labelBaseline": "top", "labelAlign": "center", "labelOverlap": false, "labelFlush": false
    }
   },
   "y": {"field": "v", "type": "quantitative", "stack": "zero", "title": "power [GW]",
    "scale": {"domain": [0, 157], "nice": false},
    "axis": {"values": [0, 20, 40, 60, 80, 100, 120, 140], "tickSize": 9, "labelPadding": 11, "titlePadding": 12}
   },
   "color": {"field": "series", "type": "nominal",
    "scale": {"domain": ["pumped hydro charger", "hydrogen electrolyser", "battery charger", "today's demand"], "range": ["#d9f8a8", "#00ffff", "#999999", "#000000"]},
    "legend": {"title": null, "orient": "none", "legendX": 12, "legendY": 7, "fillColor": "rgba(229,229,229,0.8)", "strokeColor": "rgba(200,200,200,0.8)", "cornerRadius": 4, "padding": 5, "symbolType": "M-1.4,-0.5L1.4,-0.5L1.4,0.5L-1.4,0.5Z", "symbolSize": 1024, "symbolOffset": 7, "labelOffset": 24.5, "rowPadding": 7, "symbolStrokeWidth": 0, "symbolOpacity": 1}
   },
   "order": {"field": "o", "type": "quantitative"}
  }
 },
 {
  "title": "supply",
  "width": 1550,
  "height": 558,
  "data": {"name": "hourly"},
  "transform": [
   {"fold": ["hy", "of", "on", "pv", "bd", "ht", "pd"], "as": ["k", "v"]},
   {"lookup": "k", "from": {"data": {"values": [
     {"k": "hy", "series": "hydroelectricity", "o": 0},
     {"k": "of", "series": "offshore wind", "o": 1},
     {"k": "on", "series": "onshore wind", "o": 2},
     {"k": "pv", "series": "solar PV", "o": 3},
     {"k": "bd", "series": "battery discharger", "o": 4},
     {"k": "ht", "series": "hydrogen turbine", "o": 5},
     {"k": "pd", "series": "pumped hydro discharger", "o": 6}
   ]}, "key": "k", "fields": ["series", "o"]}}
  ],
  "mark": {"type": "area", "interpolate": "linear", "strokeWidth": 0},
  "encoding": {
   "x": {"field": "t", "type": "temporal", "title": null,
    "scale": {"domain": [{"year": 2026, "month": 7, "date": 20, "hours": 0}, {"year": 2026, "month": 7, "date": 29, "hours": 23}]},
    "axis": {
     "values": [{"year": 2026, "month": 7, "date": 20}, {"year": 2026, "month": 7, "date": 21}, {"year": 2026, "month": 7, "date": 22}, {"year": 2026, "month": 7, "date": 23}, {"year": 2026, "month": 7, "date": 24}, {"year": 2026, "month": 7, "date": 25}, {"year": 2026, "month": 7, "date": 26}, {"year": 2026, "month": 7, "date": 27}, {"year": 2026, "month": 7, "date": 28}, {"year": 2026, "month": 7, "date": 29}, {"year": 2026, "month": 7, "date": 29, "hours": 23}],
     "labelExpr": "hours(datum.value) == 23 ? '' : (date(datum.value) == 20 ? ['20', 'Jul', '2026'] : timeFormat(datum.value, '%d'))",
     "tickSize": {"condition": {"test": "date(datum.value) == 20 || hours(datum.value) == 23", "value": 10}, "value": 4},
     "labelPadding": {"condition": {"test": "date(datum.value) == 20 || hours(datum.value) == 23", "value": 12}, "value": 8},
     "labelLineHeight": 32, "labelBaseline": "top", "labelAlign": "center", "labelOverlap": false, "labelFlush": false
    }
   },
   "y": {"field": "v", "type": "quantitative", "stack": "zero", "title": "power [GW]",
    "scale": {"domain": [0, 157], "nice": false},
    "axis": {"values": [0, 20, 40, 60, 80, 100, 120, 140], "tickSize": 9, "labelPadding": 11, "titlePadding": 12}
   },
   "color": {"field": "series", "type": "nominal",
    "scale": {"domain": ["pumped hydro discharger", "hydrogen turbine", "battery discharger", "solar PV", "onshore wind", "offshore wind", "hydroelectricity"], "range": ["#d9f8a8", "#ff0000", "#999999", "#ffff00", "#3a6182", "#5c82a5", "#008000"]},
    "legend": {"title": null, "orient": "none", "legendX": 12, "legendY": 7, "fillColor": "rgba(229,229,229,0.8)", "strokeColor": "rgba(200,200,200,0.8)", "cornerRadius": 4, "padding": 5, "symbolType": "M-1.4,-0.5L1.4,-0.5L1.4,0.5L-1.4,0.5Z", "symbolSize": 1024, "symbolOffset": 7, "labelOffset": 24.5, "rowPadding": 7, "symbolStrokeWidth": 0, "symbolOpacity": 1}
   },
   "order": {"field": "o", "type": "quantitative"}
  }
 }
],
"spacing": 115,
"bounds": "flush",
"resolve": {"scale": {"color": "independent"}, "legend": {"color": "independent"}}
}
